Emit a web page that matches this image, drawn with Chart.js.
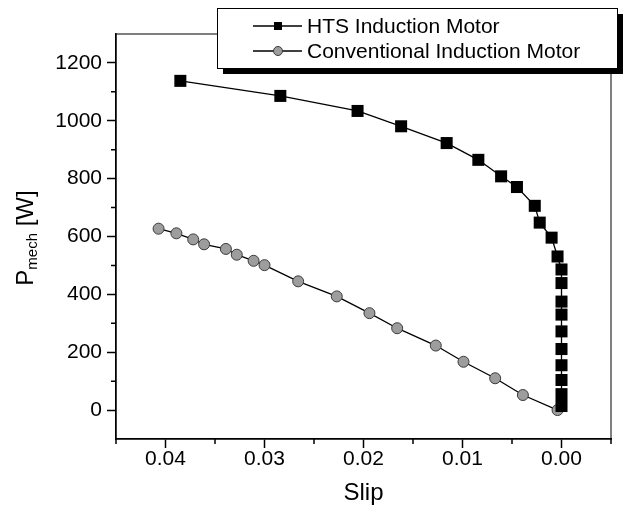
<!DOCTYPE html>
<html>
<head>
<meta charset="utf-8">
<script src="https://cdn.jsdelivr.net/npm/chart.js@4"></script>
<style>
  body { margin: 0; background: #fff; }
</style>
</head>
<body>
<canvas id="chart" width="625" height="516"></canvas>
<script>
// values
const htsSlip = [0.0385, 0.0284, 0.0206, 0.0162, 0.0116, 0.0084, 0.0061, 0.0045, 0.0027, 0.0022, 0.0010, 0.0004,
  0.0000, 0.0000, 0.0000, 0.0000, 0.0000, 0.0000, 0.0000, 0.0000, 0.0000, 0.0000];
const htsPower = [1138, 1086, 1034, 981, 923, 865, 808, 771, 706, 648, 596, 531,
  486, 439, 375, 330, 272, 211, 155, 104, 55, 14];

const convSlip = [0.0407, 0.0389, 0.0372, 0.0361, 0.0339, 0.0328, 0.0311, 0.0300, 0.0266, 0.0227,
  0.0194, 0.0166, 0.0127, 0.0099, 0.0067, 0.0039, 0.0004];
const convPower = [627, 611, 590, 573, 557, 537, 516, 501, 445, 393,
  335, 283, 223, 167, 110, 52, 0];

const xTicks = [0.04, 0.03, 0.02, 0.01, 0.00];
const xMinor = [0.045, 0.035, 0.025, 0.015, 0.005, -0.005];
const yTicks = [0, 200, 400, 600, 800, 1000, 1200];
const yMinor = [100, 300, 500, 700, 900, 1100];

const labels = ['HTS Induction Motor', 'Conventional Induction Motor'];

const FONT = '"Liberation Sans", Arial, sans-serif';

const toPoints = (xs, ys) => xs.map((x, i) => ({ x, y: ys[i] }));

// frame, minor ticks, y title with subscript, boxed legend with shadow
const decorations = {
  id: 'decorations',
  afterDraw(chart) {
    const ctx = chart.ctx;
    const a = chart.chartArea;
    const xs = chart.scales.x, ys = chart.scales.y;
    ctx.save();
    ctx.strokeStyle = '#000';
    ctx.lineWidth = 1;
    ctx.strokeRect(a.left, a.top, a.right - a.left, a.bottom - a.top);

    ctx.lineWidth = 1.5;
    ctx.beginPath();
    xMinor.forEach(v => {
      const px = xs.getPixelForValue(v);
      ctx.moveTo(px, a.bottom);
      ctx.lineTo(px, a.bottom + 5);
    });
    yMinor.forEach(v => {
      const py = ys.getPixelForValue(v);
      ctx.moveTo(a.left, py);
      ctx.lineTo(a.left - 5, py);
    });
    ctx.stroke();

    // y axis title: P_mech [W]
    ctx.fillStyle = '#000';
    ctx.translate(33, 238);
    ctx.rotate(-Math.PI / 2);
    ctx.textBaseline = 'alphabetic';
    const big = '24px ' + FONT, small = '15px ' + FONT;
    ctx.font = big;
    const wP = ctx.measureText('P').width;
    const wW = ctx.measureText(' [W]').width;
    ctx.font = small;
    const wM = ctx.measureText('mech').width;
    let x0 = -(wP + wM + wW) / 2;
    ctx.font = big;
    ctx.fillText('P', x0, 0);
    ctx.font = small;
    ctx.fillText('mech', x0 + wP, 4);
    ctx.font = big;
    ctx.fillText(' [W]', x0 + wP + wM, 0);
    ctx.restore();

    // legend box
    ctx.save();
    const bx = 217, by = 8, bw = 400, bh = 60;
    ctx.fillStyle = '#000';
    ctx.fillRect(bx + 6, by + 6, bw, bh);
    ctx.fillStyle = '#fff';
    ctx.fillRect(bx, by, bw, bh);
    ctx.strokeStyle = '#000';
    ctx.lineWidth = 1;
    ctx.strokeRect(bx + 0.5, by + 0.5, bw, bh);
    const rows = [26, 51];
    chart.data.datasets.forEach((ds, i) => {
      const y = rows[i];
      ctx.strokeStyle = '#000';
      ctx.lineWidth = 1.3;
      ctx.beginPath();
      ctx.moveTo(253, y);
      ctx.lineTo(302, y);
      ctx.stroke();
      ctx.fillStyle = ds.pointBackgroundColor;
      ctx.strokeStyle = ds.pointBorderColor;
      ctx.lineWidth = 1;
      if (i === 0) {
        ctx.fillRect(274, y - 4, 8, 8);
      } else {
        ctx.beginPath();
        ctx.arc(278, y, 4.5, 0, Math.PI * 2);
        ctx.fill();
        ctx.stroke();
      }
      ctx.fillStyle = '#000';
      ctx.font = '21px ' + FONT;
      ctx.textBaseline = 'middle';
      ctx.fillText(labels[i], 307, y + 1);
    });
    ctx.restore();
  }
};

new Chart(document.getElementById('chart').getContext('2d'), {
  type: 'scatter',
  data: {
    datasets: [
      {
        label: labels[0],
        data: toPoints(htsSlip, htsPower),
        showLine: true,
        borderColor: '#000',
        borderWidth: 1.3,
        pointStyle: 'rect',
        pointRadius: 8.5,
        pointBackgroundColor: '#000',
        pointBorderColor: '#000',
        pointBorderWidth: 0
      },
      {
        label: labels[1],
        data: toPoints(convSlip, convPower),
        showLine: true,
        borderColor: '#000',
        borderWidth: 1.3,
        pointStyle: 'circle',
        pointRadius: 5.5,
        pointBackgroundColor: '#9d9d9d',
        pointBorderColor: '#3a3a3a',
        pointBorderWidth: 1
      }
    ]
  },
  options: {
    responsive: false,
    animation: false,
    layout: { padding: { top: 34, right: 14, left: 0, bottom: 0 } },
    plugins: {
      legend: { display: false },
      tooltip: { enabled: false }
    },
    scales: {
      x: {
        type: 'linear',
        reverse: true,
        min: -0.005,
        max: 0.045,
        afterBuildTicks: axis => { axis.ticks = xTicks.map(v => ({ value: v })); },
        afterFit: scale => { scale.height = 77; },
        grid: { drawOnChartArea: false, tickLength: 9, tickWidth: 1.5, tickColor: '#000' },
        border: { color: '#000', width: 1.5 },
        ticks: {
          color: '#000',
          padding: -1,
          font: { family: FONT, size: 21 },
          callback: v => Number(v).toFixed(2)
        },
        title: {
          display: true,
          text: 'Slip',
          color: '#000',
          padding: { top: 0, bottom: 8 },
          font: { family: FONT, size: 24 }
        }
      },
      y: {
        type: 'linear',
        min: -100,
        max: 1300,
        afterBuildTicks: axis => { axis.ticks = yTicks.map(v => ({ value: v })); },
        afterFit: scale => { scale.width = 116; },
        grid: { drawOnChartArea: false, tickLength: 9, tickWidth: 1.5, tickColor: '#000' },
        border: { color: '#000', width: 1.5 },
        ticks: {
          color: '#000',
          padding: 5,
          font: { family: FONT, size: 21 },
          callback: v => String(v)
        }
      }
    }
  },
  plugins: [decorations]
});
</script>
</body>
</html>
